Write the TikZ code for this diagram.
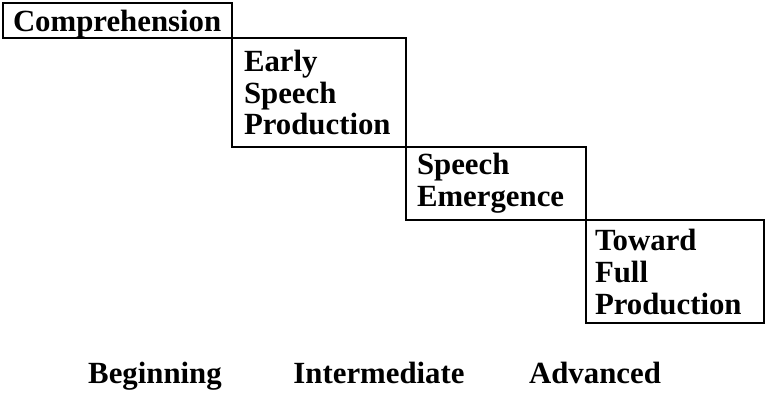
\documentclass[tikz,border=0pt]{standalone}
\usepackage{fontspec}
\setmainfont{Liberation Serif}
\usepackage{tikz}
\usetikzlibrary{positioning}

\begin{document}
\begin{tikzpicture}[x=0.5pt, y=-0.5pt,
  stagebox/.style={draw, line width=0.7pt, outer sep=0pt, align=left, inner ysep=0pt,
    font=\bfseries\fontsize{15.4}{16}\selectfont},
  levellabel/.style={anchor=base, inner sep=0pt, font=\bfseries\fontsize{15.4}{16}\selectfont}]
  \useasboundingbox (0,0) rectangle (767,392);

  % Stages, stepping down to the right
  \node[stagebox, anchor=north west, text width=104.5pt, inner xsep=5pt, minimum height=17.5pt, text depth=0pt] (comp) at (3,3) {Comprehension};
  \node[stagebox, below right=0pt and 0pt of comp, text width=75pt, inner xsep=6pt, minimum height=54.5pt] (early) {Early\\Speech\\Production};
  \node[stagebox, below right=0pt and 0pt of early, text width=79pt, inner xsep=5.5pt, minimum height=36.5pt] (emerge) {Speech\\Emergence};
  \node[stagebox, below right=0pt and 0pt of emerge, text width=80pt, inner xsep=4.5pt, minimum height=51.5pt] (full) {Toward\\Full\\Production};

  % Levels
  \node[levellabel] (begin) at (155,383) {Beginning};
  \node[levellabel] (inter) at (379,383) {Intermediate};
  \node[levellabel] (adv) at (595,383) {Advanced};
\end{tikzpicture}
\end{document}
